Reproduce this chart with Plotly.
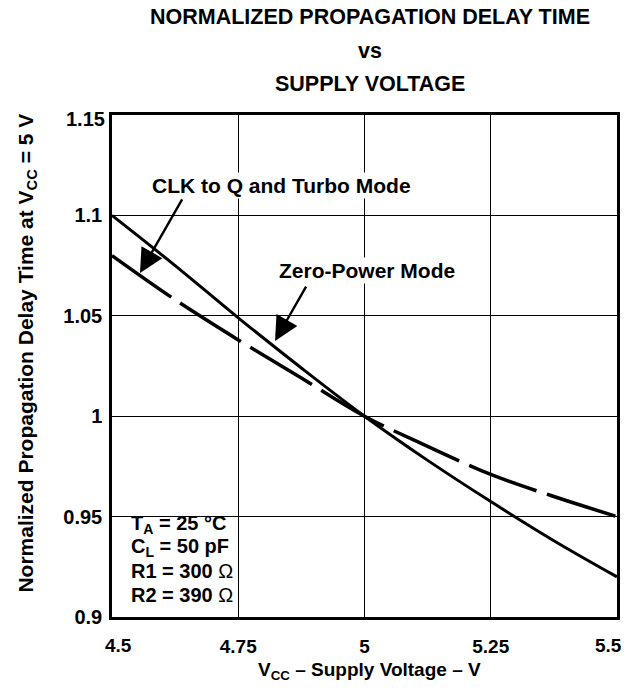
import plotly.graph_objects as go

# Data
vcc = [4.5, 4.625, 4.75, 4.875, 5.0, 5.125, 5.25, 5.375, 5.5]
clk_turbo = [1.100, 1.075, 1.049, 1.024, 1.000, 0.978, 0.9575, 0.938, 0.920]
zero_power = [1.080, 1.058, 1.038, 1.019, 1.000, 0.985, 0.971, 0.960, 0.950]

x_ticks = [4.5, 4.75, 5.0, 5.25, 5.5]
x_tick_text = ["4.5", "4.75", "5", "5.25", "5.5"]
y_ticks = [0.9, 0.95, 1.0, 1.05, 1.1, 1.15]
y_tick_text = ["0.9", "0.95", "1", "1.05", "1.1", "1.15"]
conditions = ["T<sub>A</sub> = 25 °C", "C<sub>L</sub> = 50 pF",
              "R1 = 300 <span style='font-weight:normal'>Ω</span>",
              "R2 = 390 <span style='font-weight:normal'>Ω</span>"]

FONT = "Liberation Sans, Arial, Helvetica, sans-serif"


def bold(size):
    return dict(family=FONT, size=size, color="black", weight="bold")


fig = go.Figure()
fig.add_trace(go.Scatter(x=vcc, y=clk_turbo, mode="lines",
                         line=dict(color="black", width=3), line_shape="spline",
                         showlegend=False, hoverinfo="skip"))
fig.add_trace(go.Scatter(x=vcc, y=zero_power, mode="lines",
                         line=dict(color="black", width=3.5, dash="72px,11px"),
                         line_shape="spline", showlegend=False, hoverinfo="skip"))

axis_common = dict(showline=True, linecolor="black", linewidth=2.5, mirror=True,
                   showgrid=True, gridcolor="black", gridwidth=1, zeroline=False,
                   ticks="")

# End tick labels are drawn as annotations (shifted inward like the reference)
fig.update_xaxes(range=[4.5, 5.5], tickvals=x_ticks[1:-1], ticktext=x_tick_text[1:-1],
                 ticklabelstandoff=10, tickfont=bold(19), **axis_common)
fig.update_yaxes(range=[0.9, 1.15], tickvals=y_ticks[:-1], ticktext=y_tick_text[:-1],
                 ticklabelstandoff=3, tickfont=bold(20), **axis_common)

anns = []
anns.append(dict(text=x_tick_text[0], x=x_ticks[0], xref="x", yref="paper", y=-0.057,
                 xanchor="center", yanchor="middle", xshift=6, showarrow=False, font=bold(19)))
anns.append(dict(text=x_tick_text[-1], x=x_ticks[-1], xref="x", yref="paper", y=-0.057,
                 xanchor="center", yanchor="middle", xshift=-9, showarrow=False, font=bold(19)))
anns.append(dict(text=y_tick_text[-1], y=y_ticks[-1], yref="y", xref="paper", x=0,
                 xanchor="right", yanchor="middle", xshift=-5, yshift=-4,
                 showarrow=False, font=bold(20)))

# Title lines
for txt, yp in [("NORMALIZED PROPAGATION DELAY TIME", 1.195),
                ("vs", 1.128), ("SUPPLY VOLTAGE", 1.062)]:
    anns.append(dict(text=txt, xref="paper", yref="paper", x=0.51, y=yp,
                     xanchor="center", yanchor="middle", showarrow=False, font=bold(21.5)))
# Axis titles
anns.append(dict(text="V<sub>CC</sub> – Supply Voltage – V", xref="paper", yref="paper",
                 x=0.51, y=-0.108, xanchor="center", yanchor="middle", showarrow=False,
                 font=bold(19)))
anns.append(dict(text="Normalized Propagation Delay Time at V<sub>CC</sub> = 5 V",
                 xref="paper", yref="paper", x=-0.168, y=0.525, textangle=-90,
                 xanchor="center", yanchor="middle", showarrow=False, font=bold(21)))
# Curve labels (white background interrupts grid)
anns.append(dict(text="CLK to Q and Turbo Mode", x=4.8366, y=1.1151, xref="x", yref="y",
                 showarrow=False, bgcolor="white", borderpad=1, font=bold(21)))
anns.append(dict(text="Zero-Power Mode", x=5.004, y=1.0728, xref="x", yref="y",
                 showarrow=False, bgcolor="white", borderpad=1, font=bold(21)))
# Arrows
anns.append(dict(text="", x=4.5554, y=1.0713, ax=4.6406, ay=1.1087, xref="x", yref="y",
                 axref="x", ayref="y", showarrow=True, arrowhead=2, arrowsize=2.0,
                 arrowwidth=2.4, arrowcolor="black", standoff=0))
anns.append(dict(text="", x=4.8228, y=1.0375, ax=4.886, ay=1.0653, xref="x", yref="y",
                 axref="x", ayref="y", showarrow=True, arrowhead=2, arrowsize=2.0,
                 arrowwidth=2.4, arrowcolor="black", standoff=0))
# Conditions box lines
for txt, yp in zip(conditions, [0.1833, 0.1375, 0.0916, 0.0438]):
    anns.append(dict(text=txt, xref="paper", yref="paper", x=0.0337, y=yp,
                     xanchor="left", yanchor="middle", align="left", showarrow=False,
                     font=bold(20)))

# white background behind the conditions (interrupts the grid)
shapes = [dict(type="rect", xref="paper", yref="paper", x0=0.003, x1=0.299,
               y0=0.014, y1=0.227, fillcolor="white", line=dict(width=0), layer="below")]

fig.update_layout(width=638, height=688, margin=dict(l=112, r=21, t=115, b=71),
                  paper_bgcolor="white", plot_bgcolor="white", annotations=anns,
                  shapes=shapes, font=dict(family=FONT, color="black"))

fig.write_html("out.html", config={"displayModeBar": False},
               post_script="document.body.style.margin='0';"
                           "document.body.style.overflow='hidden';")
